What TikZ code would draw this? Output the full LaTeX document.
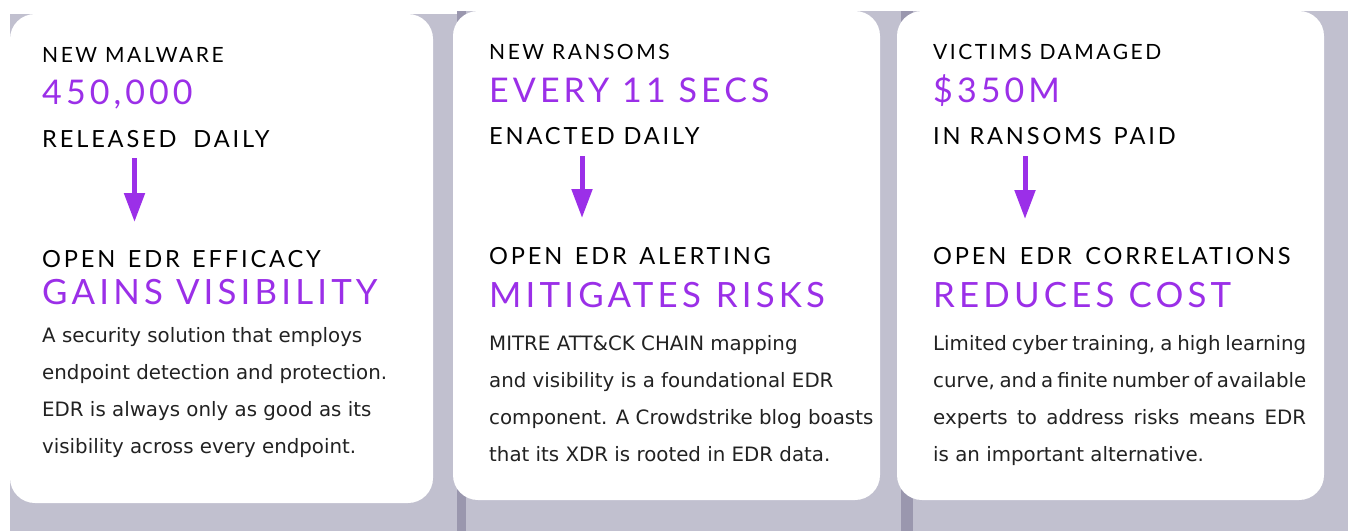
\documentclass[tikz,border=0pt]{standalone}
\usepackage{fontspec}
\usetikzlibrary{arrows.meta}
\newfontfamily\headfont[LetterSpace=12]{Lato}
\newfontfamily\bodyfont{DejaVu Sans}
\definecolor{purp}{HTML}{9B2FE8}
\definecolor{panelgrey}{HTML}{C1C0CF}
\definecolor{paneldark}{HTML}{9A97AE}
\definecolor{bodytext}{HTML}{222222}
\begin{document}
\begin{tikzpicture}[x=1pt,y=-1pt,
 card/.style={fill=white, rounded corners=25pt},
 small/.style={anchor=base west, inner sep=0pt, font=\headfont\fontsize{21}{21}\selectfont, text=black},
 mid/.style={anchor=base west, inner sep=0pt, font=\headfont\fontsize{23.6}{23.6}\selectfont, text=black},
 big/.style={anchor=base west, inner sep=0pt, font=\headfont\fontsize{34}{34}\selectfont, text=purp},
 bigger/.style={anchor=base west, inner sep=0pt, font=\headfont\fontsize{34.8}{34.8}\selectfont, text=purp},
 body/.style={anchor=base west, inner sep=0pt, font=\bodyfont\fontsize{19.8}{19.8}\selectfont, text=bodytext},
 down/.style={draw=purp, line width=5pt, -{Triangle[width=20pt,length=29pt]}}]
\useasboundingbox (0,0) rectangle (1348,531);
\fill[white] (0,0) rectangle (1348,531);
\fill[panelgrey] (10,14) rectangle (457,531);
\fill[panelgrey] (457,11) rectangle (1348,531);
\fill[paneldark] (457,11) rectangle (466,531);
\fill[paneldark] (901,11) rectangle (913,531);
\path[card] (10,14) rectangle (433,503);
\path[card] (453,11) rectangle (880,500);
\path[card] (897,11) rectangle (1324,500);
% card 1
\node[small] (a1) at (42,62) {NEW MALWARE};
\node[big] (a2) at (42,104) {450,000};
\node[mid] (a3) at (42,147) {RELEASED\hspace{8pt} DAILY};
\coordinate (as) at (134.5,158);
\coordinate (ae) at (134.5,222);
\draw[down] (as) -- (ae);
\node[mid] (a4) at (42,267) {OPEN\hspace{3.5pt} EDR\hspace{3.5pt} EFFICACY};
\node[bigger] (a5) at (42,304) {GAINS VISIBILITY};
\node[body] (a6) at (42,342) {A security solution that employs};
\node[body] (a7) at (42,379) {endpoint detection and protection.};
\node[body] (a8) at (42,416) {EDR is always only as good as its};
\node[body] (a9) at (42,453) {visibility across every endpoint.};
% card 2
\node[small] (b1) at (489,59) {NEW RANSOMS};
\node[big] (b2) at (489,102) {EVERY 11 SECS};
\node[mid] (b3) at (489,144) {ENACTED DAILY};
\coordinate (bs) at (582,156);
\coordinate (be) at (582,218);
\draw[down] (bs) -- (be);
\node[mid] (b4) at (489,264) {OPEN\hspace{3.5pt} EDR\hspace{3.5pt} ALERTING};
\node[bigger] (b5) at (489,307) {MITIGATES\hspace{2pt} RISKS};
\node[body] (b6) at (489,350) {MITRE ATT\&CK CHAIN mapping};
\node[body] (b7) at (489,387) {and visibility is a foundational EDR};
\node[body] (b8) at (489,424) {component. A Crowdstrike blog boasts};
\node[body] (b9) at (489,461) {that its XDR is rooted in EDR data.};
% card 3
\node[small] (c1) at (933,59) {VICTIMS DAMAGED};
\node[big] (c2) at (933,102) {\$350M};
\node[mid] (c3) at (933,144) {IN RANSOMS\hspace{3pt} PAID};
\coordinate (cs) at (1025,156);
\coordinate (ce) at (1025,219);
\draw[down] (cs) -- (ce);
\node[mid] (c4) at (933,264) {OPEN\hspace{4.5pt} EDR\hspace{4.5pt} CORRELATIONS};
\node[bigger] (c5) at (933,307) {REDUCES\hspace{1pt} COST};
\node[body] (c6) at (933,350) {\makebox[373pt][s]{Limited cyber training, a high learning}};
\node[body] (c7) at (933,387) {\makebox[373pt][s]{curve, and a finite number of available}};
\node[body] (c8) at (933,424) {\makebox[373pt][s]{experts to address risks means EDR}};
\node[body] (c9) at (933,461) {is an important alternative.};
\end{tikzpicture}
\end{document}
